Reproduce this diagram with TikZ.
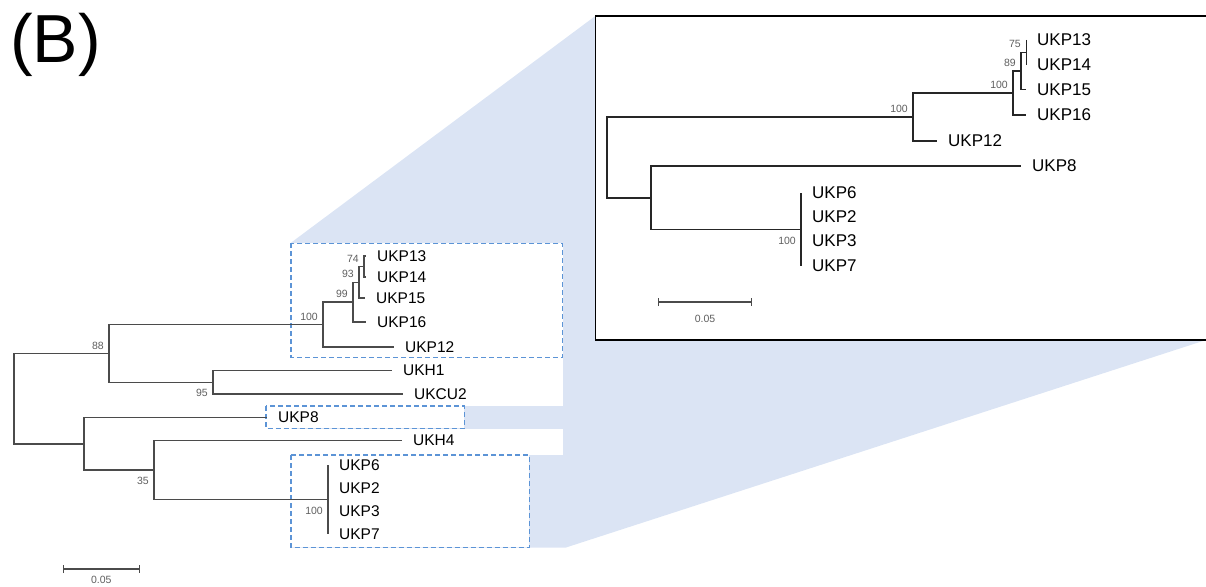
\documentclass[tikz,border=0pt]{standalone}
\usepackage{fontspec}
\setmainfont{Liberation Sans}
\usetikzlibrary{positioning,arrows.meta}
\definecolor{zoomblue}{RGB}{219,228,244}
\definecolor{boxblue}{RGB}{92,148,214}
\definecolor{treegray}{RGB}{75,75,75}
\definecolor{bootgray}{RGB}{95,95,95}
\tikzset{
  branch/.style={treegray,line width=1.5pt},
  ibranch/.style={black!85,line width=1.4pt},
  leaf/.style={inner sep=0pt,font=\fontsize{15.5}{16}\selectfont},
  ileaf/.style={inner sep=0pt,font=\fontsize{17}{18}\selectfont},
  bootup/.style={inner sep=0pt,anchor=south east,xshift=-5pt,yshift=4pt,text=bootgray,font=\fontsize{10.5}{11}\selectfont},
  bootdown/.style={inner sep=0pt,anchor=north east,xshift=-5pt,yshift=-7pt,text=bootgray,font=\fontsize{10.5}{11}\selectfont},
  hlbox/.style={draw=boxblue,dash pattern=on 5pt off 3pt,line width=1.4pt,fill=white},
  scalebar/.style={treegray,line width=1.4pt,{Bar[width=8pt]}-{Bar[width=8pt]}},
  scalelab/.style={inner sep=0pt,text=bootgray,font=\fontsize{10.5}{11}\selectfont},
  node distance=11pt
}
\begin{document}
\begin{tikzpicture}[x=1pt,y=-1pt]
  \useasboundingbox (0,0) rectangle (1206,586);
  % zoom wedge
  \fill[zoomblue] (291,242.7) -- (595.3,16) -- (1206,16) -- (1206,340) -- (566,547.5) -- (291,547.5) -- cycle;
  \fill[white] (291,357.3) rectangle (562.7,405.5);
  \fill[white] (291,428.5) rectangle (562.7,454.5);
  \draw[hlbox] (291,243.3) rectangle (562.7,357.3);
  \draw[hlbox] (266,406) rectangle (464.3,428.3);
  \draw[hlbox] (291,455) rectangle (529.3,547.3);
  \draw[line width=1.2pt,fill=white] (595.3,16) rectangle (1208,340);
  \node[font=\fontsize{68}{68}\selectfont,anchor=west,inner sep=0pt] (panel) at (10,44.5) {(B)};

  % main tree
  \coordinate (mRoot) at (14,398.6);
  \coordinate (m88) at (109,353.4);
  \coordinate (m100) at (323,324.6);
  \coordinate (m99) at (353,302.1);
  \coordinate (m93) at (359,282.25);
  \coordinate (m74) at (364,266.5);
  \coordinate (m95) at (213,382.25);
  \coordinate (mB) at (84,443.75);
  \coordinate (m35) at (154,470);
  \coordinate (m100b) at (328,499.5);
  \coordinate (tP13) at (366,256);
  \coordinate (tP14) at (366,277);
  \coordinate (tP15) at (365,298);
  \coordinate (tP16) at (366,322);
  \coordinate (tP12) at (394,347);
  \coordinate (tH1) at (392,370.5);
  \coordinate (tCU2) at (403,394);
  \coordinate (tP8) at (267,417.5);
  \coordinate (tH4) at (402,440.5);
  \coordinate (tP6) at (328,465);
  \coordinate (tP2) at (328,488);
  \coordinate (tP3) at (328,511);
  \coordinate (tP7) at (328,534);
  \draw[branch] (mRoot) |- (m88);
  \draw[branch] (mRoot) |- (mB);
  \draw[branch] (m88) |- (m100);
  \draw[branch] (m88) |- (m95);
  \draw[branch] (m100) |- (m99);
  \draw[branch] (m100) |- (tP12);
  \draw[branch] (m99) |- (m93);
  \draw[branch] (m99) |- (tP16);
  \draw[branch] (m93) |- (m74);
  \draw[branch] (m93) |- (tP15);
  \draw[branch] (m74) |- (tP13);
  \draw[branch] (m74) |- (tP14);
  \draw[branch] (m95) |- (tH1);
  \draw[branch] (m95) |- (tCU2);
  \draw[branch] (mB) |- (tP8);
  \draw[branch] (mB) |- (m35);
  \draw[branch] (m35) |- (tH4);
  \draw[branch] (m35) |- (m100b);
  \draw[branch] (tP6) -- (tP7);
  \node[leaf,right=of tP13] (P13) {UKP13};
  \node[leaf,right=of tP14] (P14) {UKP14};
  \node[leaf,right=of tP15] (P15) {UKP15};
  \node[leaf,right=of tP16] (P16) {UKP16};
  \node[leaf,right=of tP12] (P12) {UKP12};
  \node[leaf,right=of tH1] (H1) {UKH1};
  \node[leaf,right=of tCU2] (CU2) {UKCU2};
  \node[leaf,right=of tP8] (P8) {UKP8};
  \node[leaf,right=of tH4] (H4) {UKH4};
  \node[leaf,right=of tP6] (P6) {UKP6};
  \node[leaf,right=of tP2] (P2) {UKP2};
  \node[leaf,right=of tP3] (P3) {UKP3};
  \node[leaf,right=of tP7] (P7) {UKP7};
  \node[bootup] (b88) at (m88) {88};
  \node[bootup] (b100) at (m100) {100};
  \node[bootup] (b99) at (m99) {99};
  \node[bootup] (b93) at (m93) {93};
  \node[bootup] (b74) at (m74) {74};
  \node[bootdown] (b95) at (m95) {95};
  \node[bootdown] (b35) at (m35) {35};
  \node[bootdown] (b100b) at (m100b) {100};
  \coordinate (msL) at (62.7,569);
  \coordinate (msR) at (140,569);
  \draw[scalebar] (msL) -- (msR);
  \node[scalelab] (msT) at (101.3,579.5) {0.05};

  % inset tree
  \coordinate (iRoot) at (607,157.4);
  \coordinate (i100) at (913,117);
  \coordinate (i100a) at (1013,92.9);
  \coordinate (i89) at (1021,70.9);
  \coordinate (i75) at (1026,52.25);
  \coordinate (iB) at (651,197.8);
  \coordinate (i100c) at (801,229.5);
  \coordinate (sP13) at (1026,40);
  \coordinate (sP14) at (1026,64.5);
  \coordinate (sP15) at (1026,89.5);
  \coordinate (sP16) at (1026,115);
  \coordinate (sP12) at (937,141);
  \coordinate (sP8) at (1021,166);
  \coordinate (sP6) at (801,193);
  \coordinate (sP2) at (801,217);
  \coordinate (sP3) at (801,241);
  \coordinate (sP7) at (801,266);
  \draw[ibranch] (iRoot) |- (i100);
  \draw[ibranch] (iRoot) |- (iB);
  \draw[ibranch] (i100) |- (i100a);
  \draw[ibranch] (i100) |- (sP12);
  \draw[ibranch] (i100a) |- (i89);
  \draw[ibranch] (i100a) |- (sP16);
  \draw[ibranch] (i89) |- (i75);
  \draw[ibranch] (i89) |- (sP15);
  \draw[ibranch,line width=.8pt] (sP13) -- (sP14);
  \draw[ibranch] (iB) |- (sP8);
  \draw[ibranch] (iB) |- (i100c);
  \draw[ibranch] (sP6) -- (sP7);
  \node[ileaf,right=of sP13] (iP13) {UKP13};
  \node[ileaf,right=of sP14] (iP14) {UKP14};
  \node[ileaf,right=of sP15] (iP15) {UKP15};
  \node[ileaf,right=of sP16] (iP16) {UKP16};
  \node[ileaf,right=of sP12] (iP12) {UKP12};
  \node[ileaf,right=of sP8] (iP8) {UKP8};
  \node[ileaf,right=of sP6] (iP6) {UKP6};
  \node[ileaf,right=of sP2] (iP2) {UKP2};
  \node[ileaf,right=of sP3] (iP3) {UKP3};
  \node[ileaf,right=of sP7] (iP7) {UKP7};
  \node[bootup] (c100) at (i100) {100};
  \node[bootup] (c100a) at (i100a) {100};
  \node[bootup] (c89) at (i89) {89};
  \node[bootup] (c75) at (i75) {75};
  \node[bootdown] (c100c) at (i100c) {100};
  \coordinate (isL) at (658,302);
  \coordinate (isR) at (752,302);
  \draw[scalebar] (isL) -- (isR);
  \node[scalelab] (isT) at (705,318.5) {0.05};
\end{tikzpicture}
\end{document}
